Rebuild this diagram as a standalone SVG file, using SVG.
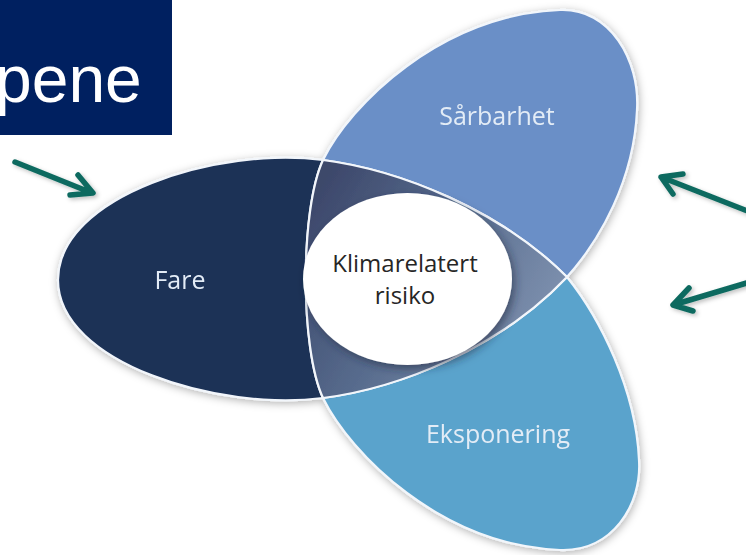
<svg xmlns="http://www.w3.org/2000/svg" width="746" height="555" viewBox="0 0 746 555">
  <defs>
    <filter id="shadow" x="-10%" y="-10%" width="120%" height="120%">
      <feDropShadow dx="1" dy="2" stdDeviation="4" flood-color="#000" flood-opacity="0.3"/>
    </filter>
    <filter id="innerShadow" x="-20%" y="-20%" width="140%" height="140%">
      <feDropShadow dx="3" dy="4" stdDeviation="4" flood-color="#1a2540" flood-opacity="0.55"/>
    </filter>
    <filter id="arrowShadow" x="-20%" y="-20%" width="140%" height="140%">
      <feDropShadow dx="2" dy="2" stdDeviation="2" flood-color="#000" flood-opacity="0.25"/>
    </filter>
    <linearGradient id="lensGrad" gradientUnits="userSpaceOnUse" x1="330" y1="170" x2="560" y2="300">
      <stop offset="0" stop-color="#3d486b"/>
      <stop offset="0.45" stop-color="#55698b"/>
      <stop offset="1" stop-color="#7d90ae"/>
    </linearGradient>
  </defs>
  <style>
    .petal { stroke: #f2f6fb; stroke-width: 2.2; }
    .lbl { font-family: "Open Sans", "Liberation Sans", sans-serif; font-size: 25px; fill: #e3ecf6; text-anchor: middle; }
    .ctr { font-family: "Open Sans", "Liberation Sans", sans-serif; font-size: 24px; fill: #262626; text-anchor: middle; }
    .arrow { fill: none; stroke: #0f6b60; stroke-width: 5.5; stroke-linecap: round; stroke-linejoin: round; }
  </style>

  <rect width="746" height="555" fill="#ffffff"/>

  <g id="title">
    <rect x="0" y="0" width="172" height="135" fill="#002060"/>
    <text x="-5" y="102" font-family="Liberation Sans, Arial, sans-serif" font-size="66" fill="#ffffff">pene</text>
  </g>

  <g filter="url(#shadow)">
    <g id="fare">
      <path class="petal" fill="#1b3157" d="M323,160 C220,146 58,195 58,280 C58,363 220,412 323,398 C300,348 300,210 323,160 Z"/>
      <text class="lbl" x="180" y="289">Fare</text>
    </g>
    <g id="sarbarhet">
      <path class="petal" fill="#6a8fc7" d="M323,160 C350,105 440,15 560,10 C610,8 640,60 637,110 C634,180 600,240 567,277 C500,210 400,170 323,160 Z"/>
      <text class="lbl" x="497" y="125">Sårbarhet</text>
    </g>
    <g id="eksponering">
      <path class="petal" fill="#5aa3cc" d="M323,398 C350,453 440,545 560,550 C612,552 642,505 639,460 C636,390 600,318 567,277 C500,348 400,388 323,398 Z"/>
      <text class="lbl" x="498" y="443">Eksponering</text>
    </g>
    <g id="overlap">
      <path class="petal" fill="url(#lensGrad)" d="M323,160 C400,170 500,210 567,277 C500,348 400,388 323,398 C300,348 300,210 323,160 Z"/>
    </g>
  </g>

  <g id="klimarelatert-risiko">
    <ellipse cx="407.5" cy="279" rx="104.5" ry="86" fill="#ffffff" filter="url(#innerShadow)"/>
    <text class="ctr" x="405" y="272">Klimarelatert</text>
    <text class="ctr" x="405" y="304">risiko</text>
  </g>

  <g id="connectors" filter="url(#arrowShadow)">
    <path class="arrow" d="M15,162 L92,193 M78,175 L93,193 L70,195"/>
    <path class="arrow" d="M750,212 L661,177 M683,174 L661,177 L673,194"/>
    <path class="arrow" d="M750,282 L673,305 M689,288 L673,305 L693,311"/>
  </g>
</svg>
